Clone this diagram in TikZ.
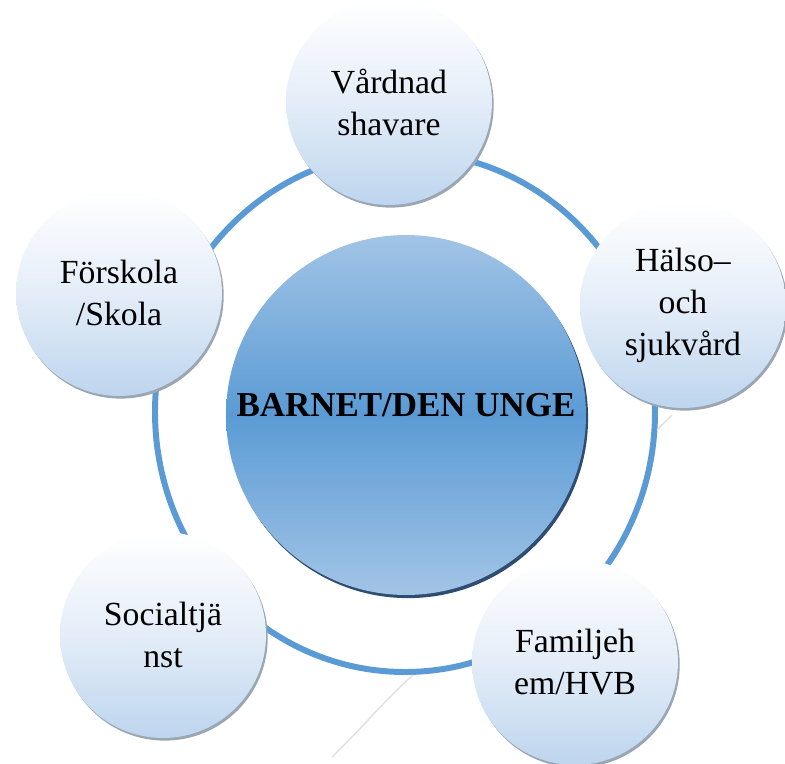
\documentclass[tikz,border=0pt]{standalone}
\usepackage{fontspec}
\setmainfont{Liberation Serif}
\usepackage{xcolor}
\usepackage{tikz}
\usetikzlibrary{positioning,shadows}
\definecolor{ring500}{HTML}{5B9BD5}
\definecolor{hubtop}{HTML}{A2C4E6}
\definecolor{hubmid}{HTML}{5B9BD5}
\definecolor{hubedge}{HTML}{2E4D70}
\definecolor{bubtop}{HTML}{FFFFFF}
\definecolor{bubmid}{HTML}{E4EDF8}
\definecolor{bubbot}{HTML}{BDD5EE}
\definecolor{bubedge}{HTML}{9AA6B2}
\definecolor{ghost}{HTML}{E0E0E0}
\tikzset{
  hub/.style={
    circle, minimum size=7.2cm, inner sep=0pt,
    text height=14pt, text depth=12pt,
    top color=hubtop, bottom color=hubtop, middle color=hubmid,
    drop shadow={shadow xshift=1.2pt, shadow yshift=-1.8pt, fill=hubedge, opacity=1},
    font=\fontsize{19.9}{24}\selectfont\bfseries
  },
  bubble/.style={
    circle, minimum size=4.12cm, inner sep=0pt, align=center,
    top color=bubtop, bottom color=bubbot, middle color=bubmid,
    drop shadow={shadow xshift=1pt, shadow yshift=-1.5pt, fill=bubedge, opacity=1},
    font=\fontsize{19.2}{23.9}\selectfont
  },
  ring/.style={draw=ring500, line width=3.4pt},
  ghostline/.style={draw=ghost, line width=0.8pt},
}

\begin{document}
\begin{tikzpicture}[x=0.02cm, y=-0.02cm]
  \useasboundingbox (0,0) rectangle (785,764);
  % ring behind the circles
  \draw[ring] (405,412) ellipse [x radius=250, y radius=260];
  \draw[ghostline] (413,675) .. controls (385,700) and (360,730) .. (332,757);
  \draw[ghostline] (657,430) -- (672,415);
  \node[hub] (barnet) at (406,415) {BARNET/DEN UNGE};
  \node[bubble] (vardnad) at (389,102) {Vårdnad\\shavare};
  \node[bubble] (halso) at (683,305) {Hälso–\\och\\sjukvård};
  \node[bubble] (familjehem) at (575,662) {Familjeh\\em/HVB};
  \node[bubble] (social) at (163,635) {Socialtjä\\nst};
  \node[bubble] (forskola) at (119,293) {Förskola\\/Skola};
\end{tikzpicture}
\end{document}
